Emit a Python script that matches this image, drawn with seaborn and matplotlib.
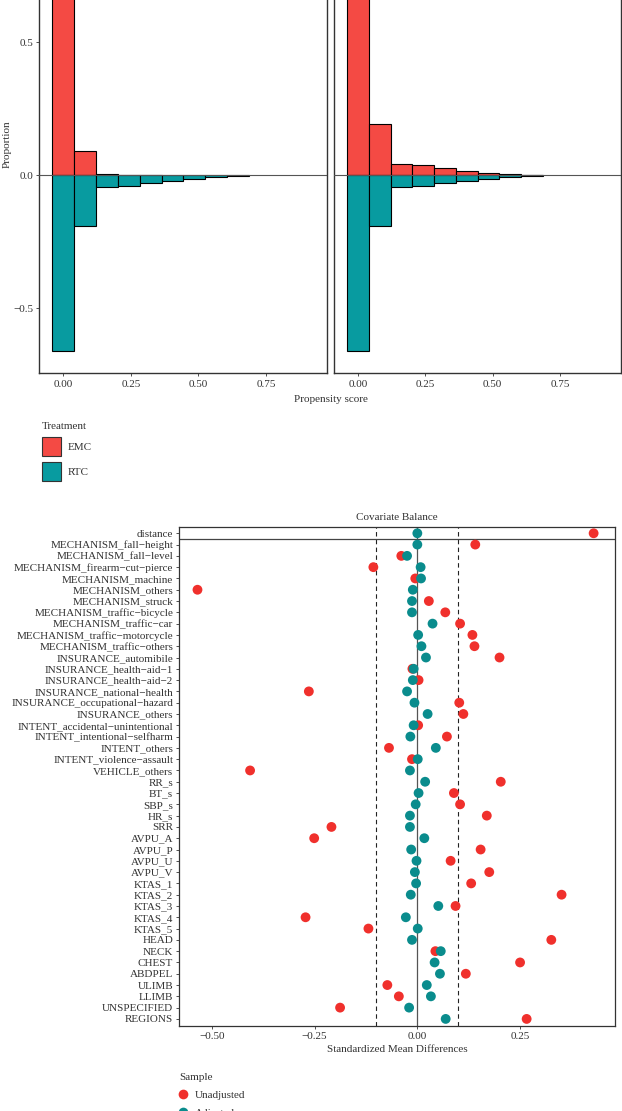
import numpy as np
import pandas as pd
import matplotlib
matplotlib.use("Agg")
import matplotlib.pyplot as plt
import seaborn as sns
from matplotlib.patches import Patch
from matplotlib.lines import Line2D

# ---------------- data ----------------
bin_edges = [-0.0404, 0.0404, 0.1212, 0.2020, 0.2828, 0.3636, 0.4444,
             0.5252, 0.6060, 0.6868, 0.7676, 0.8484, 0.9292]
emc_unadjusted = [0.897, 0.093, 0.006, 0.003, 0.001, 0, 0, 0, 0, 0, 0, 0]
emc_adjusted = [0.670, 0.192, 0.044, 0.039, 0.029, 0.0175, 0.010, 0.004, 0.0012, 0, 0, 0]
rtc_props = [0.659, 0.190, 0.045, 0.040, 0.030, 0.0226, 0.015, 0.0075, 0.0035, 0, 0, 0]

covariates = [
    "distance", "MECHANISM_fall\u2212height", "MECHANISM_fall\u2212level",
    "MECHANISM_firearm\u2212cut\u2212pierce", "MECHANISM_machine", "MECHANISM_others",
    "MECHANISM_struck", "MECHANISM_traffic\u2212bicycle", "MECHANISM_traffic\u2212car",
    "MECHANISM_traffic\u2212motorcycle", "MECHANISM_traffic\u2212others",
    "INSURANCE_automibile", "INSURANCE_health\u2212aid\u22121", "INSURANCE_health\u2212aid\u22122",
    "INSURANCE_national\u2212health", "INSURANCE_occupational\u2212hazard", "INSURANCE_others",
    "INTENT_accidental\u2212unintentional", "INTENT_intentional\u2212selfharm", "INTENT_others",
    "INTENT_violence\u2212assault", "VEHICLE_others", "RR_s", "BT_s", "SBP_s", "HR_s", "SRR",
    "AVPU_A", "AVPU_P", "AVPU_U", "AVPU_V", "KTAS_1", "KTAS_2", "KTAS_3", "KTAS_4", "KTAS_5",
    "HEAD", "NECK", "CHEST", "ABDPEL", "ULIMB", "LLIMB", "UNSPECIFIED", "REGIONS"]
smd_unadjusted = [
    0.429, 0.141, -0.039, -0.107, -0.005, -0.535, 0.028, 0.068, 0.104, 0.134, 0.139,
    0.200, -0.012, 0.003, -0.264, 0.102, 0.112,
    0.002, 0.072, -0.069, -0.013, -0.407, 0.203, 0.089, 0.104, 0.169, -0.209,
    -0.251, 0.154, 0.081, 0.175, 0.131, 0.351, 0.093, -0.272, -0.119,
    0.326, 0.044, 0.250, 0.118, -0.073, -0.045, -0.188, 0.266]
smd_adjusted = [
    0.000, 0.000, -0.025, 0.008, 0.009, -0.011, -0.013, -0.013, 0.037, 0.002, 0.010,
    0.021, -0.009, -0.011, -0.025, -0.007, 0.025,
    -0.009, -0.017, 0.045, 0.001, -0.018, 0.019, 0.003, -0.004, -0.018, -0.018,
    0.017, -0.015, -0.002, -0.006, -0.003, -0.016, 0.051, -0.028, 0.001,
    -0.013, 0.057, 0.042, 0.055, 0.023, 0.033, -0.020, 0.069]
threshold = 0.1

# ---------------- style ----------------
sns.set_theme(style="white")
plt.rcParams["font.family"] = ["Liberation Serif", "DejaVu Serif"]
plt.rcParams["axes.unicode_minus"] = True
TXT = "#333333"
FS = 8
HIST_RED = "#F44A44"
HIST_TEAL = "#089BA0"
PT_RED = "#F0302C"
PT_TEAL = "#0A8C8D"

W, H = 622, 1111
fig = plt.figure(figsize=(W / 100, H / 100), dpi=100)

def fx(px):
    return px / W

def fy(py):
    return 1 - py / H

# ---------------- mirrored histograms ----------------
edges = np.array(bin_edges)
centers = (edges[:-1] + edges[1:]) / 2
hist_bottom, hist_top = 373.3, -84.0
ax_l = fig.add_axes([fx(39.3), fy(hist_bottom), fx(288), (hist_bottom - hist_top) / H])
ax_r = fig.add_axes([fx(334), fy(hist_bottom), fx(287), (hist_bottom - hist_top) / H])

for ax, emc in ((ax_l, emc_unadjusted), (ax_r, emc_adjusted)):
    hd = pd.DataFrame({"ps": centers, "emc": emc, "rtc": -np.array(rtc_props)})
    sns.histplot(data=hd, x="ps", weights="emc", bins=list(bin_edges), ax=ax,
                 color=HIST_RED, alpha=1, edgecolor="black", linewidth=0.8, stat="count")
    sns.histplot(data=hd, x="ps", weights="rtc", bins=list(bin_edges), ax=ax,
                 color=HIST_TEAL, alpha=1, edgecolor="black", linewidth=0.8, stat="count")
    for p in list(ax.patches):
        if p.get_height() == 0:
            p.remove()
    ax.axhline(0, color="#555555", lw=0.8, zorder=5)
    ax.set_xlim(-0.0889, 0.977)
    ax.set_ylim(-0.744, 0.975)
    ax.set_xticks([0, 0.25, 0.5, 0.75])
    ax.set_xticklabels(["0.00", "0.25", "0.50", "0.75"])
    ax.set_xlabel("")
    ax.set_ylabel("")
    for s in ax.spines.values():
        s.set_color(TXT)
        s.set_linewidth(1.0)
    ax.tick_params(axis="both", labelsize=FS, colors=TXT, length=2.5, width=0.6,
                   pad=2, bottom=True, left=True)

ax_l.set_yticks([-0.5, 0, 0.5])
ax_l.set_yticklabels(["\u22120.5", "0.0", "0.5"])
ax_l.set_ylabel("Proportion", fontsize=FS, color=TXT)
ax_l.yaxis.set_label_coords(-27.5 / 288, 0.5)
ax_r.set_yticks([])
ax_r.tick_params(left=False)
fig.text(fx(331), fy(400), "Propensity score", ha="center", va="center",
         fontsize=FS, color=TXT)

treat_handles = [Patch(facecolor=HIST_RED, edgecolor="#333333", lw=0.8, label="EMC"),
                 Patch(facecolor=HIST_TEAL, edgecolor="#333333", lw=0.8, label="RTC")]
leg1 = fig.legend(handles=treat_handles, title="Treatment", loc="upper left",
                  bbox_to_anchor=(fx(33), fy(413)), frameon=False, fontsize=FS,
                  title_fontsize=FS, handlelength=1.7, handleheight=2.25,
                  labelspacing=0.55, handletextpad=0.6, alignment="left", borderpad=0.3)
for t in leg1.get_texts():
    t.set_color(TXT)
leg1.get_title().set_color(TXT)

# ---------------- love plot ----------------
n = len(covariates)
df = pd.DataFrame({
    "covariate": covariates * 2,
    "row": list(range(n)) * 2,
    "smd": smd_unadjusted + smd_adjusted,
    "Sample": ["Unadjusted"] * n + ["Adjusted"] * n,
})
love_top, love_bottom = 526.5, 1025.7
ax3 = fig.add_axes([fx(179.4), fy(love_bottom), fx(615 - 179.4), (love_bottom - love_top) / H])
ax3.axvline(0, color="#555555", lw=0.9, zorder=1)
ax3.axvline(-threshold, color="#222222", lw=0.8, ls=(0, (4, 3)), zorder=1)
ax3.axvline(threshold, color="#222222", lw=0.8, ls=(0, (4, 3)), zorder=1)
ax3.axhline(0.5, color="#444444", lw=0.9, zorder=1)
sns.scatterplot(data=df, x="smd", y="row", hue="Sample",
                palette={"Unadjusted": PT_RED, "Adjusted": PT_TEAL},
                s=50, edgecolor="none", linewidth=0, ax=ax3, legend=False, zorder=3)
ax3.set_yticks(range(n))
ax3.set_yticklabels(covariates)
ax3.set_ylim(n - 1 + 0.6, -0.6)
ax3.set_xlim(-0.579, 0.481)
ax3.set_xticks([-0.5, -0.25, 0, 0.25])
ax3.set_xticklabels(["\u22120.50", "\u22120.25", "0.00", "0.25"])
ax3.set_xlabel("Standardized Mean Differences", fontsize=FS, color=TXT, labelpad=3)
ax3.set_ylabel("")
ax3.set_title("Covariate Balance", fontsize=FS, color=TXT, pad=5)
for s in ax3.spines.values():
    s.set_color(TXT)
    s.set_linewidth(0.9)
ax3.tick_params(axis="both", labelsize=FS, colors=TXT, length=2.5, width=0.6,
                pad=2, bottom=True, left=True)

sample_handles = [Line2D([], [], marker="o", ls="none", color=PT_RED, markersize=7,
                         markeredgewidth=0, label="Unadjusted"),
                  Line2D([], [], marker="o", ls="none", color=PT_TEAL, markersize=7,
                         markeredgewidth=0, label="Adjusted")]
leg2 = fig.legend(handles=sample_handles, title="Sample", loc="upper left",
                  bbox_to_anchor=(fx(170), fy(1064)), frameon=False, fontsize=FS,
                  title_fontsize=FS, handlelength=0.8, handletextpad=0.6,
                  labelspacing=0.75, alignment="left", borderpad=0.3)
for t in leg2.get_texts():
    t.set_color(TXT)
leg2.get_title().set_color(TXT)

fig.savefig("out.png", dpi=100)
